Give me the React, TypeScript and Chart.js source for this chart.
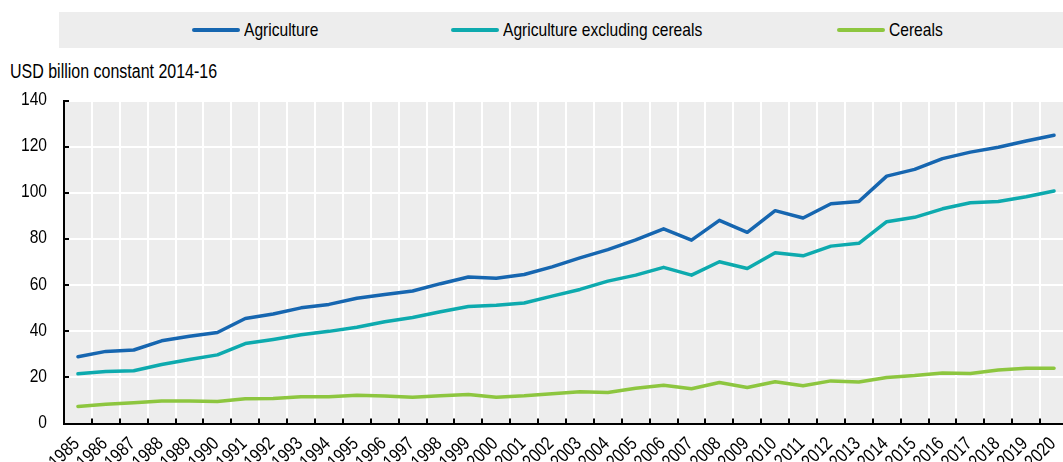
import React, { useEffect, useRef } from "react";
import { Chart, registerables } from "chart.js";

Chart.register(...registerables);

const years = [
  "1985", "1986", "1987", "1988", "1989", "1990", "1991", "1992", "1993", "1994",
  "1995", "1996", "1997", "1998", "1999", "2000", "2001", "2002", "2003", "2004",
  "2005", "2006", "2007", "2008", "2009", "2010", "2011", "2012", "2013", "2014",
  "2015", "2016", "2017", "2018", "2019", "2020",
];

const agriculture = [
  29, 31.3, 31.9, 35.9, 37.9, 39.5, 45.6, 47.5, 50.2, 51.7,
  54.4, 56, 57.5, 60.7, 63.6, 63.1, 64.7, 68, 71.9, 75.5,
  79.7, 84.5, 79.6, 88.2, 83, 92.4, 89.2, 95.4, 96.4, 107.4,
  110.3, 115, 117.8, 119.9, 122.6, 125.1,
];

const agricultureExclCereals = [
  21.6, 22.6, 22.9, 25.6, 27.8, 29.8, 34.7, 36.5, 38.5, 40,
  41.8, 44.2, 46, 48.5, 50.8, 51.3, 52.3, 55.3, 58.2, 61.8,
  64.4, 67.8, 64.4, 70.2, 67.3, 74.1, 72.8, 77, 78.2, 87.6,
  89.5, 93.2, 95.8, 96.4, 98.4, 100.9,
];

const cereals = [
  7.4, 8.4, 9, 9.8, 9.8, 9.6, 10.7, 10.9, 11.6, 11.6,
  12.3, 11.9, 11.4, 12, 12.6, 11.4, 12, 12.9, 13.8, 13.5,
  15.3, 16.6, 15.1, 17.8, 15.6, 18.1, 16.4, 18.5, 18, 20,
  20.8, 21.9, 21.7, 23.2, 24, 24,
];

const seriesNames = ["Agriculture", "Agriculture excluding cereals", "Cereals"];
const seriesColors = ["#1666B0", "#0DAAAE", "#8DC63F"];
const legendLeft = [192, 451, 837];
const yAxisTitle = "USD billion constant 2014-16";
const yMin = 0;
const yMax = 140;
const yStep = 20;

const FONT = "'Liberation Sans', Arial, Helvetica, sans-serif";
const CANVAS_FONT = '19px "Liberation Sans", Arial, sans-serif';
const NARROW = 0.82; // emulate a narrow sans face
const PLOT_BG = "#EDEDED";

const plotBackground = {
  id: "plotBackground",
  beforeDraw(chart: any) {
    const { ctx, chartArea } = chart;
    if (!chartArea) return;
    ctx.save();
    ctx.fillStyle = PLOT_BG;
    ctx.fillRect(chartArea.left, chartArea.top, chartArea.right - chartArea.left, chartArea.bottom - chartArea.top);
    ctx.restore();
  },
};

const innerTicks = {
  id: "innerTicks",
  afterDraw(chart: any) {
    const { ctx, chartArea, scales } = chart;
    const xs = scales.x;
    const ys = scales.y;
    ctx.save();
    ctx.strokeStyle = "#000";
    ctx.lineWidth = 2;
    ctx.beginPath();
    const n = xs.getLabels().length;
    const step = (chartArea.right - chartArea.left) / n;
    for (let k = 1; k < n; k++) {
      const x = Math.round(chartArea.left + k * step);
      ctx.moveTo(x, chartArea.bottom);
      ctx.lineTo(x, chartArea.bottom - 5);
    }
    ys.ticks.forEach((t: any) => {
      const y = Math.round(ys.getPixelForValue(t.value));
      ctx.moveTo(chartArea.left, y);
      ctx.lineTo(chartArea.left + 5, y);
    });
    ctx.stroke();
    ctx.restore();
  },
};

const narrowTickLabels = {
  id: "narrowTickLabels",
  afterDraw(chart: any) {
    const { ctx, chartArea, scales } = chart;
    const xs = scales.x;
    const ys = scales.y;
    ys.ticks.forEach((t: any) => {
      const py = ys.getPixelForValue(t.value);
      ctx.save();
      ctx.font = CANVAS_FONT;
      ctx.fillStyle = "#000";
      ctx.translate(chartArea.left - 17, py - 1);
      ctx.scale(NARROW, 1);
      ctx.textAlign = "right";
      ctx.textBaseline = "middle";
      ctx.fillText(String(t.value), 0, 0);
      ctx.restore();
    });
    xs.getLabels().forEach((lab: string, i: number) => {
      const px = xs.getPixelForValue(i);
      ctx.save();
      ctx.font = CANVAS_FONT;
      ctx.fillStyle = "#000";
      ctx.translate(px + 2.5, chartArea.bottom + 21);
      ctx.rotate(-Math.PI / 4);
      ctx.scale(NARROW, 1);
      ctx.textAlign = "right";
      ctx.textBaseline = "alphabetic";
      ctx.fillText(lab, 0, 0);
      ctx.restore();
    });
  },
};

export default function App() {
  const canvasRef = useRef<HTMLCanvasElement | null>(null);

  useEffect(() => {
    if (!canvasRef.current) return;
    const datasets = [agriculture, agricultureExclCereals, cereals].map((data, i) => ({
      label: seriesNames[i],
      data,
      borderColor: seriesColors[i],
      backgroundColor: seriesColors[i],
      borderWidth: 3.5,
      pointRadius: 0,
      pointHoverRadius: 0,
      tension: 0,
      fill: false,
      borderCapStyle: "round" as const,
      borderJoinStyle: "round" as const,
    }));

    const chart = new Chart(canvasRef.current, {
      type: "line",
      data: { labels: years, datasets },
      plugins: [plotBackground, innerTicks, narrowTickLabels],
      options: {
        responsive: false,
        animation: false,
        devicePixelRatio: 1,
        layout: { padding: { top: 101, left: 0, right: 0, bottom: 0 } },
        plugins: {
          legend: { display: false },
          tooltip: { enabled: false },
          title: { display: false },
        },
        scales: {
          x: {
            type: "category",
            offset: true,
            grid: {
              offset: true,
              color: "#FFFFFF",
              lineWidth: 2,
              drawTicks: false,
            },
            border: { display: true, color: "#000000", width: 2 },
            ticks: { display: false, autoSkip: false },
            afterFit(scale: any) {
              scale.height = 38.5;
            },
          },
          y: {
            min: yMin,
            max: yMax,
            ticks: { display: false, stepSize: yStep },
            grid: {
              color: "#FFFFFF",
              lineWidth: 2,
              drawTicks: false,
            },
            border: { display: true, color: "#000000", width: 2 },
            afterFit(scale: any) {
              scale.width = 64;
            },
          },
        },
      },
    });
    return () => chart.destroy();
  }, []);

  return (
    <div
      style={{
        position: "fixed",
        left: 0,
        top: 0,
        width: 1063,
        height: 462,
        overflow: "hidden",
        background: "#FFFFFF",
        fontFamily: FONT,
      }}
    >
      <div
        style={{
          position: "absolute",
          left: 59,
          top: 12,
          width: 1004,
          height: 36,
          background: PLOT_BG,
        }}
      />
      {seriesNames.map((name, i) => (
        <div
          key={name}
          style={{
            position: "absolute",
            left: legendLeft[i],
            top: 20,
            height: 20,
            display: "flex",
            alignItems: "center",
          }}
        >
          <span
            style={{
              display: "inline-block",
              width: 48,
              height: 4,
              borderRadius: 2,
              background: seriesColors[i],
              marginRight: 4,
            }}
          />
          <span
            style={{
              display: "inline-block",
              fontSize: 19,
              color: "#000",
              lineHeight: "20px",
              whiteSpace: "nowrap",
              transform: `scaleX(${NARROW})`,
              transformOrigin: "left center",
            }}
          >
            {name}
          </span>
        </div>
      ))}
      <div
        style={{
          position: "absolute",
          left: 10,
          top: 61,
          fontSize: 19.5,
          lineHeight: "20px",
          color: "#000",
          whiteSpace: "nowrap",
          transform: `scaleX(${NARROW})`,
          transformOrigin: "left center",
        }}
      >
        {yAxisTitle}
      </div>
      <canvas ref={canvasRef} width={1068} height={462} style={{ position: "absolute", left: 0, top: 0 }} />
    </div>
  );
}
